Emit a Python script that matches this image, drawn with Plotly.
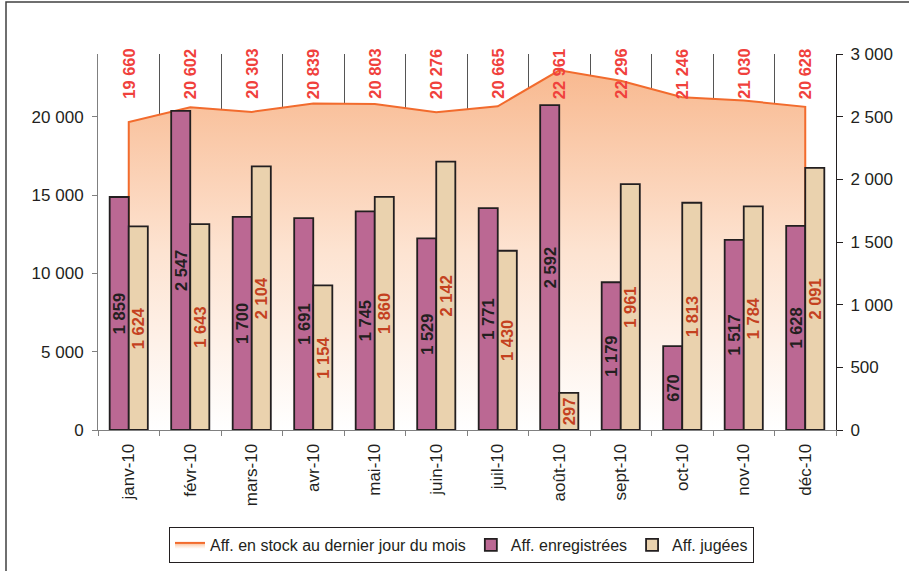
import plotly.graph_objects as go

months = ["janv-10", "févr-10", "mars-10", "avr-10", "mai-10", "juin-10",
          "juil-10", "août-10", "sept-10", "oct-10", "nov-10", "déc-10"]
stock = [19660, 20602, 20303, 20839, 20803, 20276, 20665, 22961, 22296, 21246, 21030, 20628]
enregistrees = [1859, 2547, 1700, 1691, 1745, 1529, 1771, 2592, 1179, 670, 1517, 1628]
jugees = [1624, 1643, 2104, 1154, 1860, 2142, 1430, 297, 1961, 1813, 1784, 2091]

left_ticks = [0, 5000, 10000, 15000, 20000]
right_ticks = [0, 500, 1000, 1500, 2000, 2500, 3000]

FONT = "Liberation Sans, Arial, sans-serif"
DARK = "#231f20"
TICK_SIZE = 17
LABEL_SIZE = 16.5


def fmt(v):
    return f"{v:,}".replace(",", " ")


fig = go.Figure()

# Stock area (closed polygon down to zero at both ends)
area_x = [months[0]] + months + [months[-1]]
area_y = [0] + stock + [0]
fig.add_trace(go.Scatter(
    x=area_x, y=area_y, mode="lines", fill="toself",
    name="Aff. en stock au dernier jour du mois",
    line=dict(color="#f26b2d", width=2),
    fillcolor="#fbd3b6",
    fillgradient=dict(type="vertical",
                      colorscale=[[0, "#ffffff"], [0.5, "#fde3d1"], [1, "#f8b990"]]),
    yaxis="y", hoverinfo="skip",
))

fig.add_trace(go.Bar(
    x=months, y=enregistrees, name="Aff. enregistrées", yaxis="y2",
    marker=dict(color="#bb6893", line=dict(color=DARK, width=1.8)),
    texttemplate="%{y:,.0f}", textposition="inside", insidetextanchor="middle",
    textangle=-90, textfont=dict(family=FONT, size=LABEL_SIZE, color=DARK, weight="bold"),
))
fig.add_trace(go.Bar(
    x=months, y=jugees, name="Aff. jugées", yaxis="y2",
    marker=dict(color="#ead2ae", line=dict(color=DARK, width=1.8)),
    texttemplate="%{y:,.0f}", textposition="inside", insidetextanchor="middle",
    textangle=-90, textfont=dict(family=FONT, size=LABEL_SIZE, color="#c4411f", weight="bold"),
))

annotations = []
for m, v in zip(months, stock):
    annotations.append(dict(
        x=m, xref="x", y=(430 - 74) / 376, yref="paper", text=fmt(v),
        showarrow=False, textangle=-90, xanchor="center", yanchor="middle",
        font=dict(family=FONT, size=LABEL_SIZE, color="#f0413c", weight="bold"),
    ))

fig.update_layout(
    width=909, height=571,
    margin=dict(l=98, r=73, t=54, b=141),
    paper_bgcolor="white", plot_bgcolor="white",
    font=dict(family=FONT, size=TICK_SIZE, color=DARK),
    separators=", ",
    barmode="group", bargap=0.38, bargroupgap=0,
    uniformtext=dict(minsize=16, mode="show"),
    showlegend=True,
    legend=dict(orientation="h", xref="container", yref="container",
                x=461.5 / 909, xanchor="center", y=1 - 527 / 571, yanchor="top",
                bordercolor=DARK, borderwidth=1, bgcolor="white", itemwidth=30,
                font=dict(family=FONT, size=16, color=DARK), traceorder="normal"),
    xaxis=dict(type="category", categoryorder="array", categoryarray=months,
               tickangle=-90, ticks="outside", tickson="boundaries", ticklen=5,
               tickcolor="#808080", showgrid=True, gridcolor="#555555", gridwidth=1,
               showline=True, linecolor="#808080", linewidth=1, ticklabelstandoff=6,
               automargin=False,
               tickfont=dict(family=FONT, size=TICK_SIZE, color=DARK)),
    yaxis=dict(range=[0, 24000], tickvals=left_ticks, ticktext=[fmt(t) for t in left_ticks],
               ticks="outside", ticklen=5, tickcolor="#808080", showgrid=False, zeroline=False,
               showline=True, linecolor="#808080", linewidth=1, ticklabelstandoff=5,
               automargin=False,
               tickfont=dict(family=FONT, size=TICK_SIZE, color=DARK)),
    yaxis2=dict(range=[0, 3000], tickvals=right_ticks, ticktext=[fmt(t) for t in right_ticks],
                overlaying="y", side="right", ticks="outside", ticklen=6, tickcolor=DARK,
                showgrid=False, zeroline=False, showline=True, linecolor=DARK, linewidth=1,
                ticklabelstandoff=4, automargin=False,
                tickfont=dict(family=FONT, size=TICK_SIZE, color=DARK)),
    annotations=annotations,
    shapes=[dict(type="rect", xref="paper", yref="paper",
                 x0=(6 - 98) / 738, x1=(930 - 98) / 738,
                 y0=(430 - 600) / 376, y1=(430 - 2) / 376,
                 line=dict(color="#404040", width=1.5), fillcolor="rgba(0,0,0,0)", layer="above")],
)

fig.write_html("out.html", config={"displayModeBar": False},
               post_script="document.body.style.margin='0';")
